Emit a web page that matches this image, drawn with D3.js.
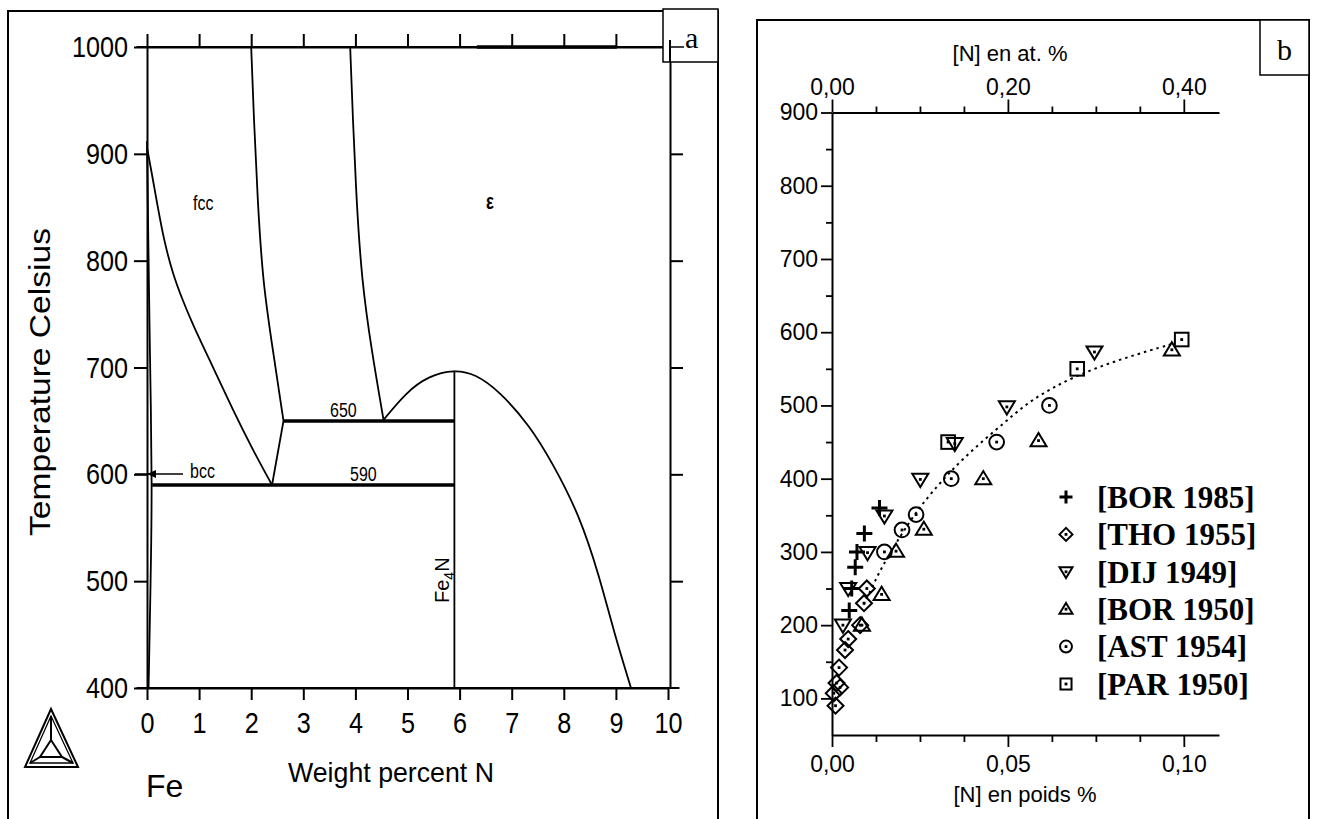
<!DOCTYPE html>
<html>
<head>
<meta charset="utf-8">
<script src="https://cdn.jsdelivr.net/npm/d3@7"></script>
<style>
  html, body { margin: 0; padding: 0; background: #fff; }
  svg { display: block; }
</style>
</head>
<body>
<script>
// Panel a: Fe-N phase diagram (wt% N vs temperature)
const aXTicks = [0, 1, 2, 3, 4, 5, 6, 7, 8, 9, 10];
const aYTicks = [400, 500, 600, 700, 800, 900, 1000];

// phase boundaries, [wt% N, °C]
const alphaBoundary = [[0, 912], [0.03, 800], [0.06, 700], [0.1, 590], [0.07, 500], [0.03, 400]];
const gammaLower = [[0, 906], [0.08, 885], [0.2, 852], [0.33, 818], [0.5, 787], [0.66, 766], [0.86, 742],
                    [1.27, 700], [1.65, 660], [2.03, 623], [2.4, 590]];
const gammaUpper = [[2.0, 1000], [2.05, 934], [2.12, 860], [2.22, 780], [2.42, 715], [2.62, 650]];
const gammaToEutectoid = [[2.62, 650], [2.4, 590]];
const gammaPrimeLeft = [[3.9, 1000], [3.95, 934], [4.02, 857], [4.12, 782], [4.31, 716], [4.54, 651]];
const epsilonDome = [[4.54, 651], [4.98, 677], [5.4, 692], [5.9, 698], [6.3, 694], [6.76, 678], [7.34, 646],
                     [7.78, 611], [8.3, 562], [8.68, 505], [8.97, 451], [9.29, 400]];
const fe4nLine = [[5.9, 697], [5.9, 400]];
const iso650 = [[2.62, 650], [5.9, 650]];
const iso590 = [[0.1, 590], [5.9, 590]];
const topSegment = [[6.33, 1000], [9.02, 1000]];

// Panel b: N solubility, [wt% N, °C]
const bor1985 = [[0.0135, 360], [0.0092, 325], [0.0071, 300], [0.0066, 279], [0.0056, 250], [0.0049, 220]];
const tho1955 = [[0.0099, 250], [0.0091, 230], [0.008, 200], [0.0046, 181], [0.0037, 166], [0.002, 142],
                 [0.0013, 121], [0.0023, 115], [0.0005, 107], [0.001, 90]];
const dij1949 = [[0.0746, 573], [0.0497, 498], [0.0349, 448], [0.0251, 399], [0.0149, 349], [0.0101, 299],
                 [0.0046, 250], [0.0031, 200]];
const bor1950 = [[0.0966, 576], [0.0587, 452], [0.043, 400], [0.0261, 331], [0.0182, 301], [0.0141, 242],
                 [0.0085, 200]];
const ast1954 = [[0.0618, 500], [0.0468, 450], [0.0339, 400], [0.0239, 351], [0.0199, 330], [0.0149, 300]];
const par1950 = [[0.0994, 590], [0.0697, 550], [0.033, 450]];
const fitCurve = [[0.009, 228], [0.012, 258], [0.015, 287], [0.0223, 344], [0.028, 380], [0.0375, 430],
                  [0.0499, 480], [0.0566, 508], [0.0687, 540], [0.083, 565], [0.0975, 585]];

const seriesNames = ["[BOR 1985]", "[THO 1955]", "[DIJ 1949]", "[BOR 1950]", "[AST 1954]", "[PAR 1950]"];
const seriesMarks = ["plus", "diamond", "down", "up", "circle", "square"];
const seriesData = [bor1985, tho1955, dij1949, bor1950, ast1954, par1950];

const bWtMajor = [0, 0.05, 0.10];
const bWtMinor = [0.0125, 0.025, 0.0375, 0.0625, 0.075, 0.0875];
const bAtMajor = [0, 0.20, 0.40];
const bAtMinor = [0.05, 0.10, 0.15, 0.25, 0.30, 0.35];
const bYMajor = [100, 200, 300, 400, 500, 600, 700, 800, 900];
const bYMinor = [150, 250, 350, 450, 550, 650, 750, 850];

const sans = "Arial,'Liberation Sans',Helvetica,sans-serif";
const serif = "'Times New Roman','Liberation Serif',Times,serif";

// squeeze text horizontally, the scanned diagram uses a condensed face
function condense(sel, k) {
    sel.each(function () {
        const w = this.getComputedTextLength();
        if (w > 0) d3.select(this).attr("textLength", w * k).attr("lengthAdjust", "spacingAndGlyphs");
    });
}

const svg = d3.select("body").append("svg")
    .attr("width", 1317)
    .attr("height", 819);

svg.append("rect").attr("width", 1317).attr("height", 819).attr("fill", "#fff");

// ---------- Panel a ----------
{
    const g = svg.append("g");
    g.append("rect").attr("x", 8).attr("y", 11).attr("width", 710).attr("height", 900)
        .attr("fill", "none").attr("stroke", "#000").attr("stroke-width", 2);

    const x = d3.scaleLinear().domain([0, 10]).range([147, 668]);
    const y = d3.scaleLinear().domain([400, 1000]).range([688, 47]);

    const styleAxis = (sel, fontSize) => {
        sel.select(".domain").attr("stroke-width", 2);
        sel.selectAll(".tick line").attr("stroke-width", 2);
        sel.selectAll("text").attr("font-family", sans).attr("font-size", fontSize).attr("fill", "#000")
            .call(condense, 0.84);
    };

    g.append("g").attr("transform", "translate(147,0)")
        .call(d3.axisLeft(y).tickValues(aYTicks).tickSize(13).tickSizeOuter(0).tickPadding(6)
            .tickFormat(d3.format("d")))
        .call(s => styleAxis(s, 30));

    g.append("g").attr("transform", "translate(0,688)")
        .call(d3.axisBottom(x).tickValues(aXTicks).tickSize(12).tickSizeOuter(0).tickPadding(12)
            .tickFormat(d3.format("d")))
        .call(s => styleAxis(s, 30));

    g.append("g").attr("transform", "translate(0,47)")
        .call(d3.axisTop(x).tickValues(aXTicks).tickSize(13).tickSizeOuter(0).tickFormat(""))
        .call(s => styleAxis(s, 30));

    g.append("g").attr("transform", "translate(670,0)")
        .call(d3.axisRight(y).tickValues(aYTicks.slice(1, -1)).tickSize(13).tickSizeOuter(0).tickFormat(""))
        .call(s => styleAxis(s, 30));

    // axis lines run a little past the frame ends
    [47, 688].forEach(yy => {
        g.append("line").attr("x1", x(-0.2)).attr("x2", x(10.22)).attr("y1", yy).attr("y2", yy)
            .attr("stroke", "#000").attr("stroke-width", 2);
    });

    const line = d3.line().x(d => x(d[0])).y(d => y(d[1])).curve(d3.curveBasis);
    const straight = d3.line().x(d => x(d[0])).y(d => y(d[1]));

    const thin = [alphaBoundary, gammaLower, gammaUpper, gammaPrimeLeft, epsilonDome];
    thin.forEach(d => {
        g.append("path").datum(d).attr("d", line)
            .attr("fill", "none").attr("stroke", "#000").attr("stroke-width", 1.8);
    });
    [gammaToEutectoid, fe4nLine].forEach(d => {
        g.append("path").datum(d).attr("d", straight)
            .attr("fill", "none").attr("stroke", "#000").attr("stroke-width", 1.8);
    });
    [iso650, iso590, topSegment].forEach(d => {
        g.append("path").datum(d).attr("d", straight)
            .attr("fill", "none").attr("stroke", "#000").attr("stroke-width", 3.5);
    });

    // region labels
    const lab = (tx, ty, t, fs) => g.append("text").attr("x", tx).attr("y", ty)
        .attr("font-family", sans).attr("font-size", fs).attr("fill", "#000").text(t)
        .call(condense, 0.8);
    lab(193, 210, "fcc", 20);
    lab(486, 209, "ε", 22).attr("font-weight", "bold");
    lab(330, 417, "650", 20);
    lab(350, 481, "590", 20);
    lab(190, 478, "bcc", 20);

    // bcc arrow
    g.append("line").attr("x1", 135).attr("x2", 183).attr("y1", 474).attr("y2", 474)
        .attr("stroke", "#000").attr("stroke-width", 1.5);
    g.append("path").attr("d", "M147,474 L156,470 L156,478 Z").attr("fill", "#000");

    // Fe4N vertical label
    const fe = g.append("text").attr("transform", `translate(${x(5.9) - 5},603) rotate(-90)`)
        .attr("font-family", sans).attr("font-size", 20).attr("fill", "#000");
    fe.append("tspan").text("Fe");
    fe.append("tspan").attr("font-size", 14).attr("dy", 5).text("4");
    fe.append("tspan").attr("dy", -5).text("N");

    g.append("text").attr("x", 40).attr("y", 382)
        .attr("transform", "rotate(-90,40,382)")
        .attr("text-anchor", "middle").attr("dy", "0.35em")
        .attr("font-family", sans).attr("font-size", 29)
        .attr("textLength", 308).attr("lengthAdjust", "spacingAndGlyphs")
        .text("Temperature Celsius");

    g.append("text").attr("x", 391).attr("y", 782).attr("text-anchor", "middle")
        .attr("font-family", sans).attr("font-size", 28)
        .attr("textLength", 206).attr("lengthAdjust", "spacingAndGlyphs")
        .text("Weight percent N");

    g.append("text").attr("x", 146).attr("y", 797)
        .attr("font-family", sans).attr("font-size", 32).text("Fe");

    // Thermo-Calc logo
    const logo = g.append("g").attr("fill", "none").attr("stroke", "#000").attr("stroke-width", 2);
    logo.append("path").attr("d", "M51,709 L25,767 L78,767 Z");
    logo.append("path").attr("d", "M51,716 L30,763 L73,763 Z").attr("stroke-width", 1.3);
    logo.append("path").attr("d", "M51,740 L40,757 L62,757 Z");
    logo.append("path").attr("d", "M51,716 L51,740 M30,763 L40,757 M73,763 L62,757");

    // "a" box
    g.append("rect").attr("x", 663).attr("y", 9).attr("width", 55).attr("height", 53)
        .attr("fill", "#fff").attr("stroke", "#000").attr("stroke-width", 1.5);
    g.append("line").attr("x1", x(10.05)).attr("x2", 684).attr("y1", 47).attr("y2", 47)
        .attr("stroke", "#000").attr("stroke-width", 1.5);
    g.append("line").attr("x1", 670).attr("x2", 670).attr("y1", 40).attr("y2", 62)
        .attr("stroke", "#000").attr("stroke-width", 2);
    g.append("text").attr("x", 685).attr("y", 48)
        .attr("font-family", serif).attr("font-size", 30).text("a");
}

// ---------- Panel b ----------
{
    const g = svg.append("g");
    g.append("rect").attr("x", 757).attr("y", 20).attr("width", 552).attr("height", 900)
        .attr("fill", "none").attr("stroke", "#000").attr("stroke-width", 2);

    const x = d3.scaleLinear().domain([0, 0.11]).range([832, 1219]);
    const xAt = d3.scaleLinear().domain([0, 0.44]).range([832, 1219]);
    const y = d3.scaleLinear().domain([50, 900]).range([735, 112.5]);

    const fr = d3.formatLocale({ decimal: ",", thousands: " ", grouping: [3], currency: ["", ""] }).format(".2f");

    const styleAxis = s => {
        s.select(".domain").attr("stroke-width", 2);
        s.selectAll(".tick line").attr("stroke-width", 1.8);
        s.selectAll("text").attr("font-family", sans).attr("font-size", 23).attr("fill", "#000");
    };

    // left
    g.append("g").attr("transform", "translate(832,0)")
        .call(d3.axisLeft(y).tickValues(bYMajor).tickSize(11).tickSizeOuter(0).tickPadding(3))
        .call(styleAxis);
    g.append("g").attr("transform", "translate(832,0)")
        .call(d3.axisLeft(y).tickValues(bYMinor).tickSize(6).tickFormat(""))
        .call(styleAxis).call(s => s.select(".domain").remove());

    // bottom (wt %)
    g.append("g").attr("transform", "translate(0,735)")
        .call(d3.axisBottom(x).tickValues(bWtMajor).tickSize(12).tickSizeOuter(0).tickPadding(9).tickFormat(fr))
        .call(styleAxis);
    g.append("g").attr("transform", "translate(0,735)")
        .call(d3.axisBottom(x).tickValues(bWtMinor).tickSize(7).tickFormat(""))
        .call(styleAxis).call(s => s.select(".domain").remove());

    // top (at. %)
    g.append("g").attr("transform", "translate(0,112.5)")
        .call(d3.axisTop(xAt).tickValues(bAtMajor).tickSize(13).tickSizeOuter(0).tickPadding(5).tickFormat(fr))
        .call(styleAxis);
    g.append("g").attr("transform", "translate(0,112.5)")
        .call(d3.axisTop(xAt).tickValues(bAtMinor).tickSize(6).tickFormat(""))
        .call(styleAxis).call(s => s.select(".domain").remove());

    g.append("text").attr("x", 1010).attr("y", 61).attr("text-anchor", "middle")
        .attr("font-family", sans).attr("font-size", 22).text("[N] en at. %");
    g.append("text").attr("x", 1025).attr("y", 802).attr("text-anchor", "middle")
        .attr("font-family", sans).attr("font-size", 22).text("[N] en poids %");

    // fit curve
    g.append("path").datum(fitCurve)
        .attr("d", d3.line().x(d => x(d[0])).y(d => y(d[1])).curve(d3.curveBasis))
        .attr("fill", "none").attr("stroke", "#000").attr("stroke-width", 2)
        .attr("stroke-dasharray", "2.5,4");

    function marker(sel, type, cx, cy, s) {
        const m = sel.append("g").attr("fill", "none").attr("stroke", "#000").attr("stroke-width", 2);
        if (type === "plus") {
            m.append("path").attr("d", `M${cx - s},${cy}H${cx + s}M${cx},${cy - s}V${cy + s}`)
                .attr("stroke-width", 3);
            return;
        }
        if (type === "diamond") {
            m.append("path").attr("d", `M${cx},${cy - s}L${cx + s},${cy}L${cx},${cy + s}L${cx - s},${cy}Z`);
        } else if (type === "down") {
            m.append("path").attr("d", `M${cx - s},${cy - s * 0.7}L${cx + s},${cy - s * 0.7}L${cx},${cy + s * 0.95}Z`);
        } else if (type === "up") {
            m.append("path").attr("d", `M${cx - s},${cy + s * 0.7}L${cx + s},${cy + s * 0.7}L${cx},${cy - s * 0.95}Z`);
        } else if (type === "circle") {
            m.append("circle").attr("cx", cx).attr("cy", cy).attr("r", s * 0.92);
        } else if (type === "square") {
            m.append("rect").attr("x", cx - s * 0.85).attr("y", cy - s * 0.85)
                .attr("width", s * 1.7).attr("height", s * 1.7);
        }
        m.append("rect").attr("x", cx - 1.4).attr("y", cy - 1.4).attr("width", 2.8).attr("height", 2.8)
            .attr("fill", "#000").attr("stroke", "none");
    }

    seriesData.forEach((data, i) => {
        const sg = g.append("g");
        data.forEach(d => marker(sg, seriesMarks[i], x(d[0]), y(d[1]), 8));
    });

    // legend
    const legY = d3.scaleLinear().domain([0, 5]).range([497, 684]);
    seriesNames.forEach((name, i) => {
        marker(g, seriesMarks[i], 1066, legY(i), 6.5);
        g.append("text").attr("x", 1097).attr("y", legY(i)).attr("dy", "0.35em")
            .attr("font-family", serif).attr("font-weight", "bold").attr("font-size", 31)
            .text(name);
    });

    // "b" box
    g.append("rect").attr("x", 1260).attr("y", 20).attr("width", 49).attr("height", 55)
        .attr("fill", "#fff").attr("stroke", "#000").attr("stroke-width", 1.5);
    g.append("text").attr("x", 1284.5).attr("y", 60).attr("text-anchor", "middle")
        .attr("font-family", serif).attr("font-size", 30).text("b");
}
</script>
</body>
</html>
